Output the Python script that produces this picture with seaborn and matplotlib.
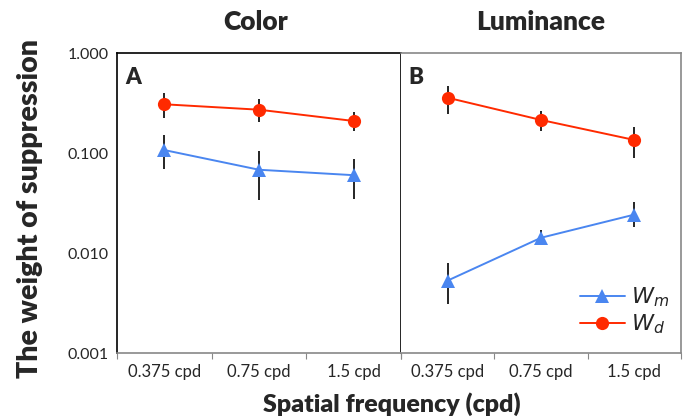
import numpy as np
import pandas as pd
import matplotlib
matplotlib.use("Agg")
import matplotlib.pyplot as plt
from matplotlib.lines import Line2D
import seaborn as sns

sns.set_theme(style="white")
plt.rcParams["font.family"] = ["Lato", "DejaVu Sans"]

frequencies = ["0.375 cpd", "0.75 cpd", "1.5 cpd"]
y_ticks = [0.001, 0.01, 0.1, 1.0]
y_tick_labels = ["0.001", "0.010", "0.100", "1.000"]

# Color condition
color_wm = [0.107, 0.068, 0.060]
color_wm_hi = [0.151, 0.105, 0.088]
color_wm_lo = [0.069, 0.034, 0.035]
color_wd = [0.307, 0.271, 0.209]
color_wd_hi = [0.395, 0.347, 0.259]
color_wd_lo = [0.225, 0.206, 0.167]

# Luminance condition
lum_wm = [0.0053, 0.0142, 0.0242]
lum_wm_hi = [0.0080, 0.0170, 0.0326]
lum_wm_lo = [0.0031, 0.0125, 0.0183]
lum_wd = [0.357, 0.214, 0.135]
lum_wd_hi = [0.468, 0.263, 0.181]
lum_wd_lo = [0.247, 0.167, 0.089]

BLUE = "#4a86f0"
RED = "#ff2a00"

fig = plt.figure(figsize=(6.91, 4.19), dpi=100)
ax_a = fig.add_axes([117 / 691, 1 - 353 / 419, 284 / 691, 300 / 419])
ax_b = fig.add_axes([401 / 691, 1 - 353 / 419, 280 / 691, 300 / 419], sharey=ax_a)


def draw_panel(ax, wm, wm_lo, wm_hi, wd, wd_lo, wd_hi):
    df = pd.DataFrame({
        "freq": frequencies * 2,
        "pos": list(range(3)) * 2,
        "value": list(wm) + list(wd),
        "lo": list(wm_lo) + list(wd_lo),
        "hi": list(wm_hi) + list(wd_hi),
        "weight": ["Wm"] * 3 + ["Wd"] * 3,
    })
    ax.vlines(df["pos"], df["lo"], df["hi"], color="black", lw=1.2, zorder=2)
    sns.lineplot(data=df, x="pos", y="value", hue="weight", style="weight",
                 palette={"Wm": BLUE, "Wd": RED},
                 markers={"Wm": "^", "Wd": "o"}, dashes=False,
                 markersize=9.5, markeredgewidth=0, linewidth=1.4,
                 legend=False, ax=ax, zorder=3)
    ax.set_yscale("log")
    ax.set_ylim(0.001, 1.0)
    ax.set_xlim(-0.5, 2.5)
    ax.set_xticks([0, 1, 2])
    ax.set_xticklabels(frequencies, fontsize=12)
    ax.set_xticks([-0.5, 0.5, 1.5, 2.5], minor=True)
    ax.tick_params(axis="x", which="major", length=0, pad=8)
    ax.tick_params(axis="x", which="minor", length=4, width=0.8, color="#888888",
                   direction="out", bottom=True)
    ax.set_xlabel("")
    ax.set_ylabel("")
    ax.spines["bottom"].set_color("#888888")
    ax.spines["bottom"].set_linewidth(1.2)


draw_panel(ax_a, color_wm, color_wm_lo, color_wm_hi, color_wd, color_wd_lo, color_wd_hi)
draw_panel(ax_b, lum_wm, lum_wm_lo, lum_wm_hi, lum_wd, lum_wd_lo, lum_wd_hi)

ax_a.set_yticks(y_ticks)
ax_a.set_yticklabels(y_tick_labels, fontsize=11.5)
ax_a.yaxis.set_minor_locator(matplotlib.ticker.NullLocator())
ax_a.tick_params(axis="y", which="both", length=0, pad=6)
for s in ["left", "top", "right"]:
    ax_a.spines[s].set_color("black")
    ax_a.spines[s].set_linewidth(1.2)

ax_b.tick_params(axis="y", which="both", left=False, labelleft=False, length=0)
ax_b.spines["left"].set_visible(False)
for s in ["top", "right"]:
    ax_b.spines[s].set_color("#888888")
    ax_b.spines[s].set_linewidth(1.2)

ax_a.text(0.03, 0.955, "A", transform=ax_a.transAxes, fontsize=16,
          fontweight="heavy", va="top", ha="left")
ax_b.text(0.025, 0.955, "B", transform=ax_b.transAxes, fontsize=16,
          fontweight="heavy", va="top", ha="left")

fig.text(256 / 691, 1 - 22 / 419, "Color", fontsize=19, fontweight="heavy",
         ha="center", va="center")
fig.text(541 / 691, 1 - 22 / 419, "Luminance", fontsize=19, fontweight="heavy",
         ha="center", va="center")
fig.text(30 / 691, 1 - 209 / 419, "The weight of suppression", fontsize=20.5,
         fontweight="heavy", rotation=90, ha="center", va="center")
fig.text(392 / 691, 1 - 404 / 419, "Spatial frequency (cpd)", fontsize=18,
         fontweight="heavy", ha="center", va="center")

handles = [
    Line2D([], [], color=BLUE, marker="^", markersize=9.5, markeredgewidth=0, lw=1.4),
    Line2D([], [], color=RED, marker="o", markersize=9.5, markeredgewidth=0, lw=1.4),
]
ax_b.legend(handles, [r"$\mathit{W}_{\mathit{m}}$", r"$\mathit{W}_{\mathit{d}}$"],
            loc="lower right", bbox_to_anchor=(1.03, -0.01), frameon=False,
            fontsize=16, handlelength=2.0, handletextpad=0.3, labelspacing=0.15)

fig.savefig("out.png", dpi=100)
